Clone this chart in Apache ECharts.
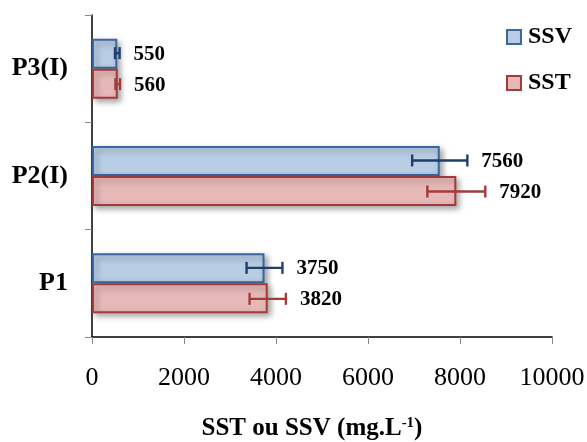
<!DOCTYPE html>
<html><head><meta charset="utf-8">
<script src="https://cdn.jsdelivr.net/npm/echarts@6/dist/echarts.min.js"></script>
<style>html,body{margin:0;padding:0;background:#fff}#c{width:587px;height:442px}</style>
</head><body><div id="c"></div>
<script>
var categories = ['P1', 'P2(I)', 'P3(I)'];
var ssv = [3750, 7560, 550];
var sst = [3820, 7920, 560];
var ssvErr = [390, 600, 50];
var sstErr = [395, 630, 50];
var xTicks = [0, 2000, 4000, 6000, 8000, 10000];

var FONT = '"Liberation Serif", "Times New Roman", serif';
var chart = echarts.init(document.getElementById('c'));

function errSeries(name, vals, errs, color, dir) {
  return {
    type: 'custom',
    name: name + '_err',
    z: 5,
    data: vals.map(function (v, i) { return [v, i, errs[i]]; }),
    renderItem: function (params, api) {
      var v = api.value(0), idx = api.value(1), e = api.value(2);
      var c = api.coord([v, idx]);
      var y = c[1] + dir * 15.5;
      var lo = api.coord([v - e, idx])[0];
      var hi = api.coord([v + e, idx])[0];
      var cap = 6;
      var st = { stroke: color, lineWidth: 2.4 };
      return {
        type: 'group',
        children: [
          { type: 'line', shape: { x1: lo, y1: y, x2: hi, y2: y }, style: st },
          { type: 'line', shape: { x1: lo, y1: y - cap, x2: lo, y2: y + cap }, style: st },
          { type: 'line', shape: { x1: hi, y1: y - cap, x2: hi, y2: y + cap }, style: st },
          { type: 'text', style: { x: hi + 14, y: y + 1, text: String(v), fill: '#000',
            font: 'bold 21px ' + FONT, textVerticalAlign: 'middle', textAlign: 'left' } }
        ]
      };
    }
  };
}

var option = {
  animation: false,
  grid: { left: 92, right: 35, top: 15, bottom: 105, containLabel: false, outerBoundsMode: 'none' },
  legend: {
    data: ['SSV', 'SST'],
    orient: 'vertical',
    right: 10, top: 20,
    icon: 'rect',
    itemWidth: 14, itemHeight: 14, itemGap: 22,
    textStyle: { fontFamily: FONT, fontWeight: 'bold', fontSize: 24, color: '#000', padding: [0, 0, 0, 2] }
  },
  xAxis: {
    type: 'value', min: 0, max: 10000, interval: 2000,
    axisLine: { show: true, lineStyle: { color: '#000', width: 1.5 } },
    axisTick: { show: true, length: 7, lineStyle: { color: '#888' } },
    splitLine: { show: false },
    axisLabel: { fontFamily: FONT, fontSize: 26, color: '#000', margin: 28,
      formatter: function (v) { return String(v); } },
    name: '{b|SST ou SSV (mg.L}{s|-1}{b|)}',
    nameLocation: 'middle', nameGap: 79,
    nameTextStyle: {
      padding: [0, 20, 0, 0],
      rich: {
        b: { fontFamily: FONT, fontWeight: 'bold', fontSize: 25, color: '#000' },
        s: { fontFamily: FONT, fontWeight: 'bold', fontSize: 15, color: '#000', verticalAlign: 'top', padding: [0, 0, 9, 0] }
      }
    }
  },
  yAxis: {
    type: 'category', data: categories,
    axisLine: { show: true, lineStyle: { color: '#000', width: 1.5 } },
    axisTick: { show: true, length: 7, lineStyle: { color: '#888' } },
    axisLabel: { fontFamily: FONT, fontWeight: 'bold', fontSize: 26, color: '#000', margin: 24 }
  },
  series: [
    {
      name: 'SSV', type: 'bar', data: ssv, barWidth: 30, barGap: '0%',
      itemStyle: { color: '#b9cde5', borderColor: '#3b67a0', borderWidth: 2,
        shadowBlur: 6, shadowColor: 'rgba(0,0,0,0.35)', shadowOffsetX: 3, shadowOffsetY: 3 }
    },
    {
      name: 'SST', type: 'bar', data: sst, barWidth: 30, barGap: '0%',
      itemStyle: { color: '#e6b9b8', borderColor: '#a33b3b', borderWidth: 2,
        shadowBlur: 6, shadowColor: 'rgba(0,0,0,0.35)', shadowOffsetX: 3, shadowOffsetY: 3 }
    },
    errSeries('SSV', ssv, ssvErr, '#1f3f6b', -1),
    errSeries('SST', sst, sstErr, '#a33b3b', 1)
  ]
};
chart.setOption(option);
</script>
</body></html>
